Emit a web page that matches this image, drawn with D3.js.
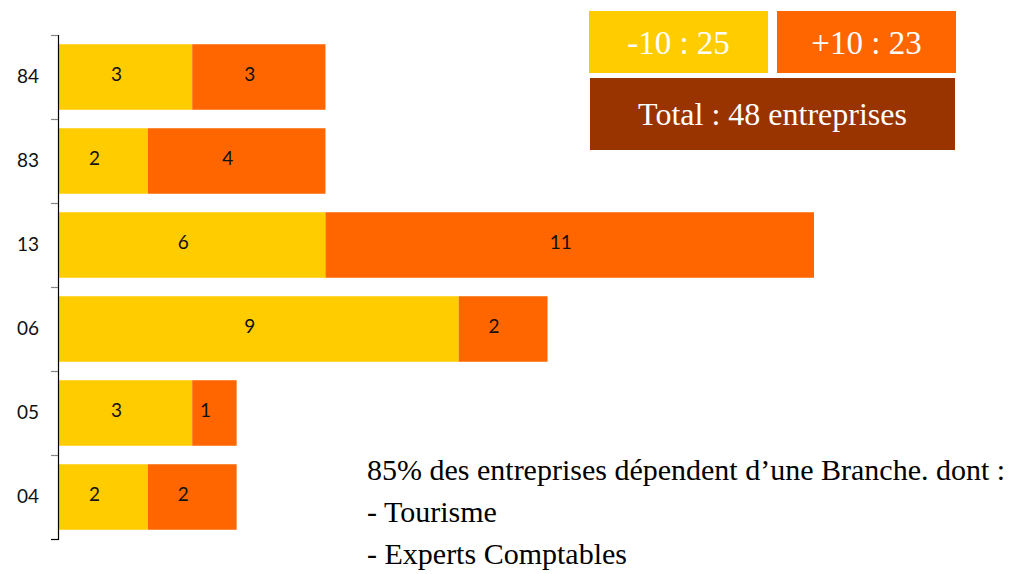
<!DOCTYPE html>
<html>
<head>
<meta charset="utf-8">
<script src="https://cdn.jsdelivr.net/npm/d3@7"></script>
<style>
  body { margin: 0; background: #fff; }
  .script { font-family: "Comic Sans MS", "URW Chancery L", cursive; }
</style>
</head>
<body>
<div id="chart"></div>
<script>
// Data (top to bottom)
const categories = ["84", "83", "13", "06", "05", "04"];
const under10 = [3, 2, 6, 9, 3, 2];   // -10
const over10 = [3, 4, 11, 2, 1, 2];   // +10
const seriesNames = ["-10", "+10"];
const colors = ["#FFCC00", "#FF6600"];
const noteLines = [
  "85% des entreprises dépendent d\u2019une Branche. dont :",
  "- Tourisme",
  "- Experts Comptables"
];

const width = 1011, height = 574;

const svg = d3.select("#chart")
  .append("svg")
  .attr("width", width)
  .attr("height", height);

const rows = categories.map((c, i) => ({cat: c, a: under10[i], b: over10[i]}));

// Scales
const x = d3.scaleLinear()
  .domain([0, 17])
  .range([59, 814]);

const y = d3.scaleBand()
  .domain(categories)
  .range([35, 539])
  .paddingInner(0.22)
  .paddingOuter(0.11);

// Bars
const segs = [];
rows.forEach(r => {
  segs.push({cat: r.cat, x0: 0, x1: r.a, v: r.a, s: 0});
  segs.push({cat: r.cat, x0: r.a, x1: r.a + r.b, v: r.b, s: 1});
});

svg.append("g")
  .selectAll("rect")
  .data(segs)
  .join("rect")
  .attr("x", d => x(d.x0))
  .attr("y", d => y(d.cat))
  .attr("width", d => x(d.x1) - x(d.x0))
  .attr("height", y.bandwidth())
  .attr("fill", d => colors[d.s]);

// labels sit a little left of (and above) the segment centre in the original
svg.append("g")
  .selectAll("text")
  .data(segs)
  .join("text")
  .attr("x", d => (x(d.x0) + x(d.x1)) / 2 - 9)
  .attr("y", d => y(d.cat) + y.bandwidth() / 2 - 3)
  .attr("dy", "0.35em")
  .attr("text-anchor", "middle")
  .style("font-family", "Lato, 'Open Sans', sans-serif")
  .style("font-size", "19px")
  .style("fill", "#111")
  .text(d => d.v);

// Axis: line, band-boundary ticks, centred labels
const axis = svg.append("g");
const r0 = y.range()[0], r1 = y.range()[1];
const bounds = d3.range(categories.length + 1).map(i => r0 + i * (r1 - r0) / categories.length);

axis.selectAll("line.tick")
  .data(bounds)
  .join("line")
  .attr("class", "tick")
  .attr("x1", 51).attr("x2", 58.5)
  .attr("y1", d => Math.round(d) + 0.5)
  .attr("y2", d => Math.round(d) + 0.5)
  .attr("stroke", (d, i) => i === bounds.length - 1 ? "#000" : "#888")
  .attr("stroke-width", 1.2);

axis.append("line")
  .attr("x1", 58.5).attr("x2", 58.5)
  .attr("y1", r0).attr("y2", r1 + 1)
  .attr("stroke", "#000")
  .attr("stroke-width", 1.2);

axis.selectAll("text")
  .data(categories)
  .join("text")
  .attr("x", 28)
  .attr("y", (d, i) => (bounds[i] + bounds[i + 1]) / 2 - 1)
  .attr("dy", "0.35em")
  .attr("text-anchor", "middle")
  .style("font-family", "Lato, 'Open Sans', sans-serif")
  .style("font-size", "19px")
  .style("fill", "#111")
  .text(d => d);

// Summary boxes
const totals = [d3.sum(under10), d3.sum(over10)];
const boxes = [
  {x: 589, y: 11, w: 179, h: 62, fill: colors[0], text: seriesNames[0] + " : " + totals[0], size: 33},
  {x: 777, y: 11, w: 179, h: 62, fill: colors[1], text: seriesNames[1] + " : " + totals[1], size: 33},
  {x: 590, y: 78, w: 365, h: 72, fill: "#993300", text: "Total : " + (totals[0] + totals[1]) + " entreprises", size: 32}
];

const box = svg.append("g")
  .selectAll("g")
  .data(boxes)
  .join("g");

box.append("rect")
  .attr("x", d => d.x).attr("y", d => d.y)
  .attr("width", d => d.w).attr("height", d => d.h)
  .attr("fill", d => d.fill);

box.append("text")
  .attr("class", "script")
  .attr("x", d => d.x + d.w / 2)
  .attr("y", d => d.y + d.h / 2)
  .attr("dy", "0.35em")
  .attr("text-anchor", "middle")
  .style("font-size", d => d.size + "px")
  .style("fill", "#fff")
  .text(d => d.text);

// Note
svg.append("g")
  .selectAll("text")
  .data(noteLines)
  .join("text")
  .attr("class", "script")
  .attr("x", 367)
  .attr("y", (d, i) => 480 + i * 42)
  .style("font-size", "30px")
  .style("fill", "#000")
  .text(d => d);
</script>
</body>
</html>
